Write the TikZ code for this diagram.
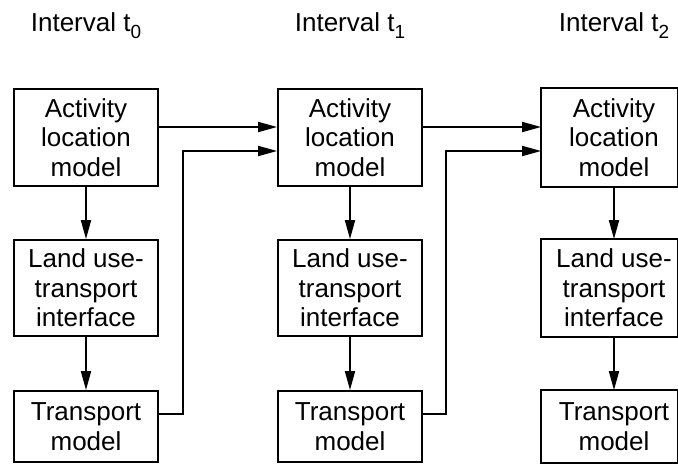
\documentclass[tikz,border=0pt]{standalone}
\usepackage{fontspec}
\setmainfont{Liberation Sans}
\usetikzlibrary{arrows.meta}
\newcommand\intsub[1]{\raisebox{-7pt}{\fontsize{19}{19}\selectfont #1}}
\begin{document}
\begin{tikzpicture}[x=1pt,y=-1pt,
  txt/.style={font=\fontsize{26}{29.5}\selectfont},
  box/.style={txt, draw, line width=1.8pt, minimum width=144pt, align=center, inner sep=0pt},
  boxR/.style={box, draw=none},
  boxline/.style={line width=1.8pt},
  title/.style={txt, anchor=base, inner sep=0pt},
  arr/.style={line width=1.8pt, -{Triangle[length=19pt,width=10pt]}},
  ln/.style={line width=1.8pt}]
\useasboundingbox (0,0) rectangle (678,464);

% titles
\node[title] (t0) at (86,31) {Interval t\intsub{0}};
\node[title] (t1) at (350,31) {Interval t\intsub{1}};
\node[title] (t2) at (614,31) {Interval t\intsub{2}};

% column 0
\node[box, minimum height=97pt] (A0) at (86,137.5) {Activity\\location\\model};
\node[box, minimum height=96pt] (L0) at (86,288) {Land use-\\transport\\interface};
\node[box, minimum height=71pt] (T0) at (86,426.5) {Transport\\model};

% column 1
\node[box, minimum height=97pt] (A1) at (350,137.5) {Activity\\location\\model};
\node[box, minimum height=96pt] (L1) at (350,288) {Land use-\\transport\\interface};
\node[box, minimum height=71pt] (T1) at (350,426.5) {Transport\\model};

% column 2 (cut at the right edge)
\node[boxR, minimum height=97pt] (A2) at (614,137.5) {Activity\\location\\model};
\node[boxR, minimum height=96pt] (L2) at (614,288) {Land use-\\transport\\interface};
\node[boxR, minimum height=71pt] (T2) at (614,426.5) {Transport\\model};
\draw[boxline] (A2.north west) rectangle ([xshift=-9.5pt]A2.south east);
\draw[boxline] (L2.north west) rectangle ([xshift=-9.5pt]L2.south east);
\draw[boxline] (T2.north west) rectangle ([xshift=-9.5pt]T2.south east);

% helper coordinates
\coordinate (ya) at (0,127);
\coordinate (yb) at (0,151);
\coordinate (yt) at (0,414);
\coordinate (j0) at (183,151);
\coordinate (j1) at (446,151);

% vertical arrows
\draw[arr] (A0.south) -- (L0.north);
\draw[arr] (L0.south) -- (T0.north);
\draw[arr] (A1.south) -- (L1.north);
\draw[arr] (L1.south) -- (T1.north);
\draw[arr] (A2.south) -- (L2.north);
\draw[arr] (L2.south) -- (T2.north);

% horizontal links
\draw[arr] (A0.east |- ya) -- (A1.west |- ya);
\draw[arr] (A1.east |- ya) -- (A2.west |- ya);
\draw[arr] (T0.east |- yt) -| (j0) -- (A1.west |- yb);
\draw[arr] (T1.east |- yt) -| (j1) -- (A2.west |- yb);
\end{tikzpicture}
\end{document}
